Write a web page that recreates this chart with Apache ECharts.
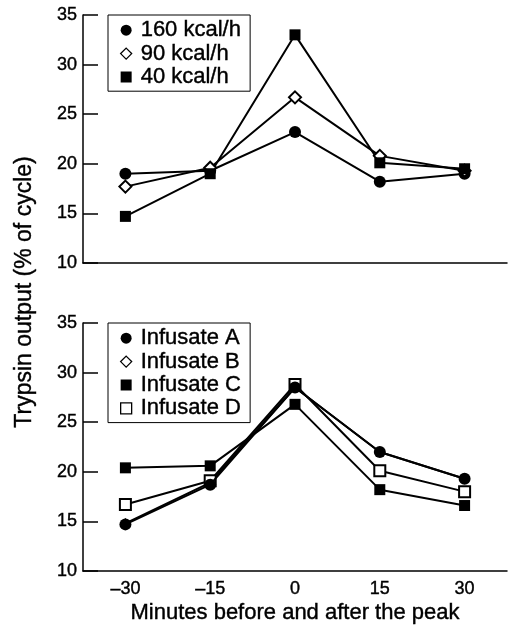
<!DOCTYPE html>
<html>
<head>
<meta charset="utf-8">
<script src="https://cdn.jsdelivr.net/npm/echarts@6/dist/echarts.min.js"></script>
<style>
  html, body { margin: 0; padding: 0; background: #fff; }
  #chart { width: 529px; height: 632px; }
</style>
</head>
<body>
<div id="chart"></div>
<script>
// minutes relative to the peak
const minutes = ['–30', '–15', '0', '15', '30']

// top panel: energy load
const kcal160 = [19.0, 19.3, 23.2, 18.2, 19.0]
const kcal90 = [17.7, 19.6, 26.7, 20.8, 19.3]
const kcal40 = [14.7, 19.0, 33.0, 20.1, 19.5]

// bottom panel: infusates
const infA = [14.7, 18.7, 28.5, 22.0, 19.3]
const infB = [14.8, 18.9, 28.5, 22.0, 19.3]
const infC = [20.4, 20.6, 26.8, 18.2, 16.6]
const infD = [16.7, 19.1, 28.8, 20.1, 18.0]

const yTicks = [10, 15, 20, 25, 30, 35]

const font = 'Liberation Sans, Arial, sans-serif'

const chart = echarts.init(document.getElementById('chart'))

const yAxisBase = (gridIndex) => ({
  type: 'value',
  gridIndex,
  min: yTicks[0],
  max: yTicks[yTicks.length - 1],
  interval: 5,
  splitLine: { show: false },
  axisLine: { show: true, lineStyle: { color: '#000', width: 1.5 } },
  axisTick: { show: true, inside: true, length: 15, lineStyle: { color: '#000', width: 1.5 } },
  axisLabel: {
    color: '#000', fontSize: 18, fontFamily: font, margin: 6,
    textBorderColor: '#000', textBorderWidth: 0.4
  }
})

const xAxisBase = (gridIndex, showLabel) => ({
  type: 'category',
  gridIndex,
  data: minutes,
  boundaryGap: true,
  axisLine: { lineStyle: { color: '#000', width: 1.5 } },
  axisTick: { inside: true, length: 15, lineStyle: { color: '#000', width: 1.5 } },
  axisLabel: {
    show: showLabel, color: '#000', fontSize: 18, fontFamily: font, margin: 9,
    textBorderColor: '#000', textBorderWidth: 0.4
  }
})

const lineSeries = (name, data, symbol, size, idx, z) => ({
  name,
  type: 'line',
  data,
  xAxisIndex: idx,
  yAxisIndex: idx,
  symbol,
  symbolSize: size,
  z: z || 2,
  color: '#000',
  lineStyle: { color: '#000', width: 2 },
  itemStyle: { color: '#000', borderColor: '#000', borderWidth: symbol.startsWith('empty') ? 1.5 : 0 }
})

// open legend markers: white fill, thin black outline
const openIcon = { color: '#fff', borderColor: '#000', borderWidth: 1.3 }

const legendBase = {
  orient: 'vertical',
  left: 108,
  borderColor: '#000',
  borderWidth: 1,
  padding: [4, 9, 3, 12],
  itemGap: 1,
  itemWidth: 11,
  itemHeight: 11,
  textStyle: {
    color: '#000', fontSize: 22, fontFamily: font, padding: [0, 0, 0, 4],
    textBorderColor: '#000', textBorderWidth: 0.4
  }
}

const option = {
  backgroundColor: '#fff',
  animation: false,
  grid: [
    { left: 83, top: 15, width: 424, height: 248 },
    { left: 83, top: 323, width: 424, height: 248 }
  ],
  xAxis: [xAxisBase(0, false), xAxisBase(1, true)],
  yAxis: [yAxisBase(0), yAxisBase(1)],
  legend: [
    Object.assign({}, legendBase, {
      top: 15,
      data: [
        { name: '160 kcal/h', icon: 'circle' },
        { name: '90 kcal/h', icon: 'diamond', itemStyle: openIcon },
        { name: '40 kcal/h', icon: 'rect' }
      ]
    }),
    Object.assign({}, legendBase, {
      top: 323,
      data: [
        { name: 'Infusate A', icon: 'circle' },
        { name: 'Infusate B', icon: 'diamond', itemStyle: openIcon },
        { name: 'Infusate C', icon: 'rect' },
        { name: 'Infusate D', icon: 'rect', itemStyle: openIcon }
      ]
    })
  ],
  series: [
    lineSeries('160 kcal/h', kcal160, 'circle', 12, 0),
    lineSeries('90 kcal/h', kcal90, 'emptyDiamond', 12, 0),
    lineSeries('40 kcal/h', kcal40, 'rect', 11, 0),
    lineSeries('Infusate A', infA, 'circle', 12, 1, 3),
    lineSeries('Infusate B', infB, 'emptyDiamond', 8, 1, 1),
    lineSeries('Infusate C', infC, 'rect', 11, 1, 2),
    lineSeries('Infusate D', infD, 'emptyRect', 11, 1, 2)
  ],
  graphic: [
    {
      type: 'text',
      x: 295,
      y: 613,
      style: {
        text: 'Minutes before and after the peak', fill: '#000', fontSize: 22, fontFamily: font,
        align: 'center', verticalAlign: 'middle', stroke: '#000', lineWidth: 0.4
      }
    },
    {
      type: 'text',
      x: 25,
      y: 292,
      rotation: Math.PI / 2,
      style: {
        text: 'Trypsin output (% of cycle)',
        fill: '#000',
        fontSize: 23,
        fontFamily: font,
        align: 'center',
        verticalAlign: 'middle',
        stroke: '#000',
        lineWidth: 0.4
      }
    }
  ]
}

chart.setOption(option)
</script>
</body>
</html>
